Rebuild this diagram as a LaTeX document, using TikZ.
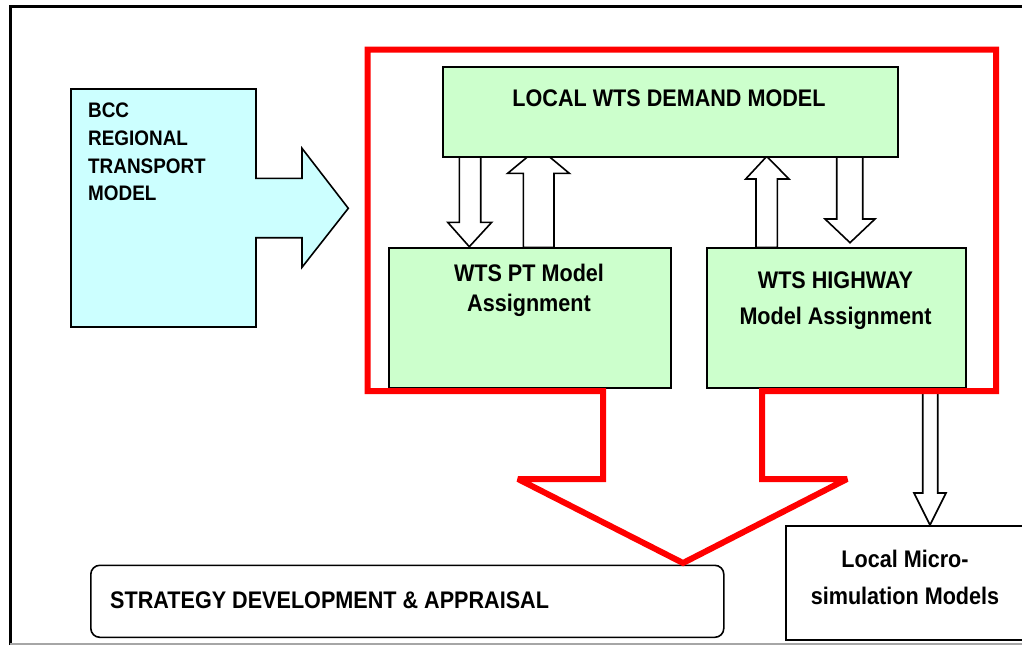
\documentclass[tikz,border=0pt]{standalone}
\usepackage{fontspec}
\setmainfont[FakeStretch=0.9]{Liberation Sans}
\definecolor{cyanfill}{HTML}{CCFFFF}
\definecolor{greenfill}{HTML}{CCFFCC}
\definecolor{framered}{HTML}{FF0000}
\tikzset{
  boxline/.style={draw=black, line width=1.6pt},
  greenbox/.style={boxline, fill=greenfill, rectangle, inner sep=0pt},
  whitebox/.style={boxline, fill=white, rectangle, inner sep=0pt},
  blockarrow/.style={draw=black, line width=1.6pt, fill=white, line join=miter},
  redoutline/.style={draw=framered, line width=6pt, line join=miter, miter limit=4},
  bigtext/.style={font=\bfseries\fontsize{24}{37}\selectfont, inner sep=0pt, align=center},
}
\begin{document}
\begin{tikzpicture}[x=1pt, y=-1pt]
\useasboundingbox (0,0) rectangle (1022,645);

% page frame
\draw[black, line width=3pt] (10,645) -- (10,6.3) -- (1022,6.3);
\draw[gray!70, line width=1.5pt] (10,644) -- (1022,644);

% regional model box merged with its block arrow
\draw[boxline, fill=cyanfill, line join=miter]
  (71,89) -- (256,89) -- (256,178.3) -- (302,178.3) -- (302,148.3) -- (348.3,208.3)
  -- (302,267.3) -- (302,237.7) -- (256,237.7) -- (256,327) -- (71,327) -- cycle;
\node[font=\bfseries\fontsize{21}{27.7}\selectfont, align=left, inner sep=0pt, anchor=north west]
  (bcc) at (88,103) {BCC\\REGIONAL\\TRANSPORT\\MODEL};

% block arrows between the demand model and the assignment models
\draw[blockarrow] (459.3,156) -- (459.3,222.3) -- (447.7,222.3) -- (469.3,246.7)
  -- (491.7,222.3) -- (480.7,222.3) -- (480.7,156) -- cycle;
\draw[blockarrow] (523.3,247.3) -- (523.3,173.3) -- (507.7,173.3) -- (538.5,147.7)
  -- (569.3,173.3) -- (554,173.3) -- (554,247.3) -- cycle;
\draw[blockarrow] (756,247.3) -- (756,179) -- (745.7,179) -- (766.7,156.4)
  -- (789,179) -- (777.3,179) -- (777.3,247.3) -- cycle;
\draw[blockarrow] (836.7,156) -- (836.7,219) -- (825,219) -- (850,242.7)
  -- (875,219) -- (862.7,219) -- (862.7,156) -- cycle;
% block arrow down to the micro-simulation models
\draw[blockarrow] (922.7,393) -- (922.7,493) -- (914,493) -- (930,525)
  -- (946,493) -- (937.7,493) -- (937.7,393) -- cycle;

% model boxes
\node[greenbox, minimum width=455pt, minimum height=90pt, anchor=north west] (demand) at (442,66) {};
\node[bigtext, anchor=base] (demandtext) at (669,106.5) {LOCAL WTS DEMAND MODEL};

\node[greenbox, minimum width=282pt, minimum height=140pt, anchor=north west] (pt) at (388,247.3) {};
\node[bigtext, anchor=north, font=\bfseries\fontsize{24}{30}\selectfont] (pttext) at (529,263.5) {WTS PT Model\\Assignment};

\node[greenbox, minimum width=259pt, minimum height=140pt, anchor=north west] (highway) at (706,247.3) {};
\node[bigtext, anchor=north, font=\bfseries\fontsize{24}{36.7}\selectfont] (hwtext) at (835.5,271.1) {WTS HIGHWAY\\Model Assignment};

% output boxes
\node[whitebox, rounded corners=9pt, minimum width=633pt, minimum height=72pt, anchor=north west] (strategy) at (90,564.5) {};
\node[bigtext, anchor=base west] (strategytext) at (110,608) {STRATEGY DEVELOPMENT \& APPRAISAL};

\node[whitebox, minimum width=240pt, minimum height=114pt, anchor=north west] (micro) at (785,525) {};
\node[bigtext, anchor=north] (microtext) at (905,549.8) {Local Micro-\\simulation Models};

% red study-area outline with its block arrow to the strategy box
\draw[redoutline]
  (603,391) -- (367.5,391) -- (367.5,49.5) -- (996,49.5) -- (996,391) -- (762,391)
  -- (762,479) -- (847,479) -- (683,563) -- (518,479) -- (603,479) -- cycle;
\end{tikzpicture}
\end{document}
